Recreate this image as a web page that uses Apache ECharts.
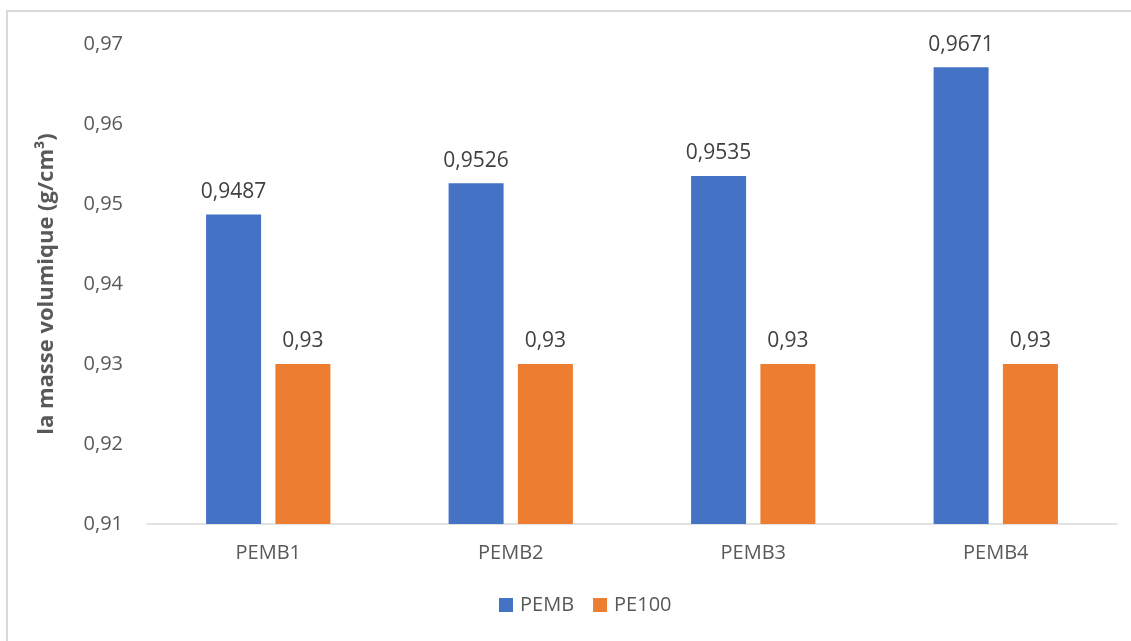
<!DOCTYPE html>
<html><head><meta charset="utf-8">
<script src="https://cdn.jsdelivr.net/npm/echarts@6/dist/echarts.min.js"></script>
<style>html,body{margin:0;padding:0;background:#fff}#c{width:1131px;height:641px}</style>
</head><body><div id="c"></div>
<script>
const categories = ['PEMB1','PEMB2','PEMB3','PEMB4'];
const pembValues = [0.9487, 0.9526, 0.9535, 0.9671];
const pe100Values = [0.93, 0.93, 0.93, 0.93];
const seriesNames = ['PEMB','PE100'];
const yTicks = {min:0.91, max:0.97, interval:0.01};

const font = '"Open Sans", sans-serif';
const fmt = v => String(v).replace('.', ',');
const chart = echarts.init(document.getElementById('c'));
chart.setOption({
  animation:false,
  textStyle:{fontFamily:font},
  graphic:[{type:'rect',shape:{x:7,y:11,width:1140,height:650},style:{fill:'none',stroke:'#d9d9d9',lineWidth:2},silent:true}],
  grid:{left:147,right:14,top:44,bottom:117},
  legend:{bottom:21,left:494,itemWidth:14,itemHeight:14,itemGap:19,icon:'rect',
    textStyle:{fontFamily:font,fontSize:20,color:'#595959',padding:[0,0,0,2]},data:seriesNames},
  xAxis:{type:'category',data:categories,
    axisLine:{lineStyle:{color:'#d9d9d9',width:1.5}},axisTick:{show:false},
    axisLabel:{fontFamily:font,fontSize:20,color:'#595959',margin:19}},
  yAxis:{type:'value',min:yTicks.min,max:yTicks.max,interval:yTicks.interval,
    name:'la masse volumique (g/cm³)',nameLocation:'middle',nameGap:89,
    nameTextStyle:{fontFamily:font,fontSize:22,fontWeight:'bold',color:'#595959'},
    splitLine:{show:false},axisLine:{show:false},axisTick:{show:false},
    axisLabel:{fontFamily:font,fontSize:20,color:'#595959',margin:24,
      formatter:v=>fmt(Math.round(v*100)/100)}},
  series:[
    {name:seriesNames[0],type:'bar',data:pembValues,barWidth:55,barGap:'26%',
     itemStyle:{color:'#4472c4'},
     label:{show:true,position:'top',distance:12,fontFamily:font,fontSize:21,color:'#404040',formatter:p=>fmt(p.value)}},
    {name:seriesNames[1],type:'bar',data:pe100Values,barWidth:55,barGap:'26%',
     itemStyle:{color:'#ed7d31'},
     label:{show:true,position:'top',distance:12,fontFamily:font,fontSize:21,color:'#404040',formatter:p=>fmt(p.value)}}
  ]
});
</script></body></html>
